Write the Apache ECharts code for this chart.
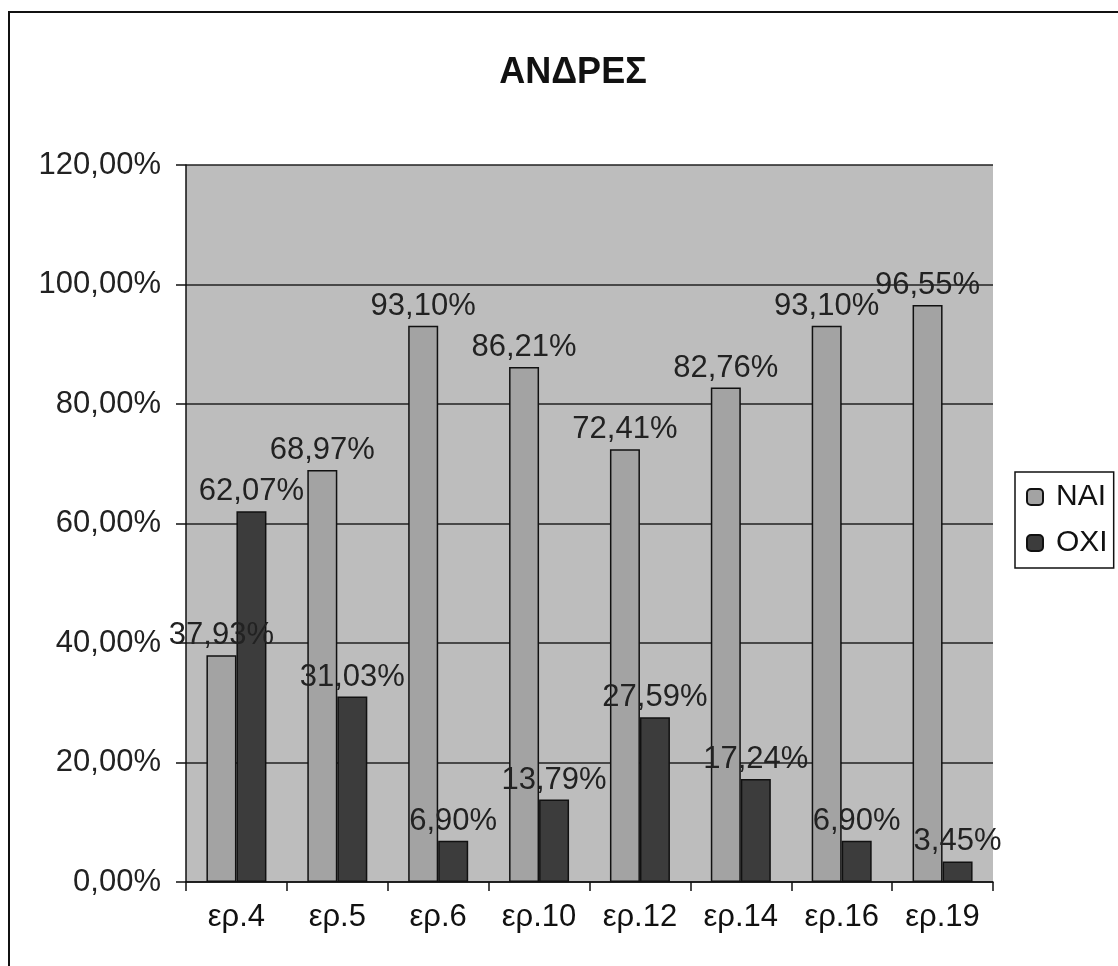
<!DOCTYPE html>
<html>
<head>
<meta charset="utf-8">
<script src="https://cdn.jsdelivr.net/npm/echarts@6/dist/echarts.min.js"></script>
<style>
  html, body { margin: 0; padding: 0; background: #fff; }
  #chart { width: 1118px; height: 966px; }
</style>
</head>
<body>
<div id="chart"></div>
<script>
// data
var categories = ['ερ.4', 'ερ.5', 'ερ.6', 'ερ.10', 'ερ.12', 'ερ.14', 'ερ.16', 'ερ.19']
var naiValues = [37.93, 68.97, 93.10, 86.21, 72.41, 82.76, 93.10, 96.55]
var oxiValues = [62.07, 31.03, 6.90, 13.79, 27.59, 17.24, 6.90, 3.45]
var seriesNames = ['ΝΑΙ', 'ΟΧΙ']

var font = 'Arial, "Liberation Sans", sans-serif'
function pct (v) {
  return v.toFixed(2).replace('.', ',') + '%'
}

var chart = echarts.init(document.getElementById('chart'))
chart.setOption({
  backgroundColor: '#fff',
  animation: false,
  title: {
    text: 'ΑΝΔΡΕΣ',
    left: 568,
    top: 50,
    textAlign: 'center',
    textStyle: { fontFamily: font, fontSize: 36, fontWeight: 'bold', color: '#111' }
  },
  graphic: [
    {
      type: 'rect',
      shape: { x: 9, y: 12, width: 1200, height: 1100 },
      style: { fill: 'none', stroke: '#111', lineWidth: 2 },
      silent: true
    }
  ],
  legend: {
    orient: 'vertical',
    left: 1015,
    top: 472,
    data: seriesNames,
    backgroundColor: '#fff',
    borderColor: '#111',
    borderWidth: 1.5,
    padding: [10, 6, 10, 11],
    itemWidth: 16,
    itemHeight: 16,
    itemGap: 16,
    icon: 'roundRect',
    textStyle: { fontFamily: font, fontSize: 30, color: '#111', padding: [0, 0, 0, 8] }
  },
  grid: {
    left: 186,
    right: 125,
    top: 165,
    bottom: 84,
    show: true,
    backgroundColor: '#bdbdbd',
    borderWidth: 0
  },
  xAxis: {
    type: 'category',
    data: categories,
    axisLine: { lineStyle: { color: '#111', width: 1.5 } },
    axisTick: { show: true, length: 9, lineStyle: { color: '#111', width: 1.5 } },
    axisLabel: { fontFamily: font, fontSize: 31, color: '#111', margin: 20 }
  },
  yAxis: {
    type: 'value',
    min: 0,
    max: 120,
    interval: 20,
    axisLine: { show: true, lineStyle: { color: '#111', width: 1.5 } },
    axisTick: { show: true, length: 10, lineStyle: { color: '#111', width: 1.5 } },
    axisLabel: { fontFamily: font, fontSize: 31, color: '#222', margin: 25, formatter: pct },
    splitLine: { show: true, lineStyle: { color: '#222', width: 1.5 } }
  },
  series: [
    {
      name: seriesNames[0],
      type: 'bar',
      data: naiValues,
      barWidth: 30,
      barGap: '0%',
      itemStyle: { color: '#a3a3a3', borderColor: '#111', borderWidth: 1.5 },
      label: {
        show: true,
        position: 'top',
        distance: 4,
        fontFamily: font,
        fontSize: 31,
        color: '#222',
        formatter: function (p) { return pct(p.value) }
      },
      z: 3
    },
    {
      name: seriesNames[1],
      type: 'bar',
      data: oxiValues,
      barWidth: 30,
      barGap: '0%',
      itemStyle: { color: '#3c3c3c', borderColor: '#111', borderWidth: 1.5 },
      label: {
        show: true,
        position: 'top',
        distance: 4,
        fontFamily: font,
        fontSize: 31,
        color: '#222',
        formatter: function (p) { return pct(p.value) }
      },
      z: 3
    }
  ]
})
</script>
</body>
</html>
